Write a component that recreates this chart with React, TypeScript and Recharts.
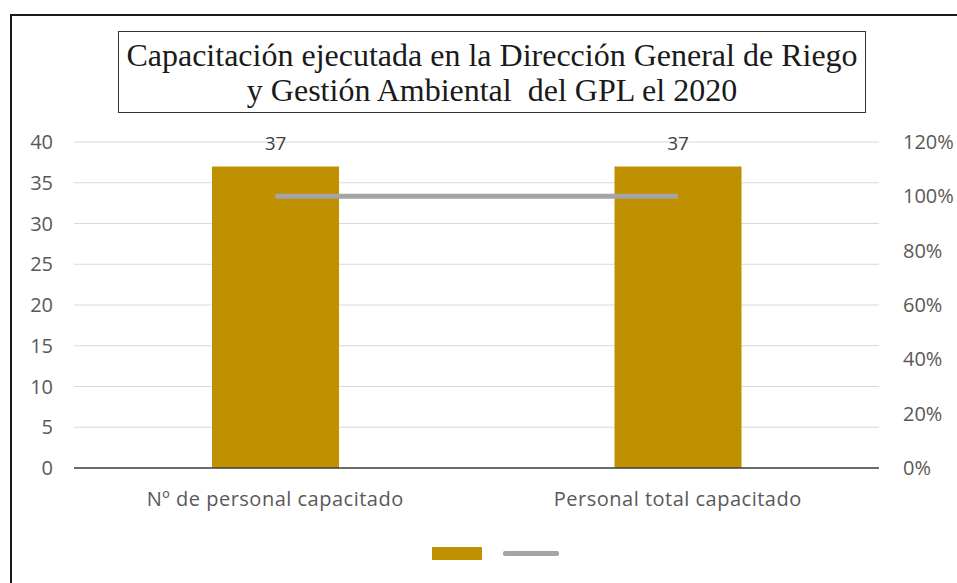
import React from 'react';
import { ComposedChart, Bar, Line, XAxis, YAxis, CartesianGrid, LabelList } from 'recharts';

const categories = ['Nº de personal capacitado', 'Personal total capacitado'];
const personal = [37, 37];
const percent = [1, 1];
const leftTicks = [0, 5, 10, 15, 20, 25, 30, 35, 40];
const rightTicks = [0, 0.2, 0.4, 0.6, 0.8, 1, 1.2];

const GOLD = '#BF9000';
const GREY = '#A5A5A5';
const TEXT = '#595959';
const FONT = '"Open Sans", sans-serif';

const chartData = categories.map((name, i) => ({
  name,
  personal: personal[i],
  percent: percent[i],
}));

// legend has no series names in the original, just the two swatches
const LegendSwatches = () => (
  <div
    style={{
      position: 'absolute',
      left: 0,
      top: 547,
      width: 957,
      display: 'flex',
      justifyContent: 'center',
      alignItems: 'center',
      gap: 21,
      height: 13,
      paddingLeft: 34,
      boxSizing: 'border-box',
    }}
  >
    <div style={{ width: 50, height: 13, background: GOLD }} />
    <div style={{ width: 56, height: 5, background: GREY, borderRadius: 2 }} />
  </div>
);

const App: React.FC = () => {
  return (
    <div style={{ position: 'absolute', left: 0, top: 0, width: 957, height: 583, background: '#fff', overflow: 'hidden' }}>
      <div
        style={{
          position: 'absolute',
          left: 10,
          top: 14,
          width: 980,
          height: 620,
          borderTop: '2px solid #1a1a1a',
          borderLeft: '2px solid #1a1a1a',
        }}
      />
      <div
        style={{
          position: 'absolute',
          left: 118,
          top: 31,
          width: 748,
          height: 82,
          border: '1.5px solid #333',
          fontFamily: '"Liberation Serif", serif',
          fontSize: 32,
          lineHeight: '35px',
          color: '#1a1a1a',
          textAlign: 'center',
          whiteSpace: 'pre',
          paddingTop: 6,
          boxSizing: 'border-box',
        }}
      >
        {'Capacitación ejecutada en la Dirección General de Riego\ny Gestión Ambiental  del GPL el 2020'}
      </div>
      <div style={{ position: 'absolute', left: 0, top: 0 }}>
        <ComposedChart
          width={957}
          height={583}
          data={chartData}
          margin={{ top: 142, right: 0, bottom: 85, left: 14 }}
        >
          <CartesianGrid yAxisId="left" vertical={false} stroke="#D9D9D9" strokeWidth={1} />
          <XAxis
            dataKey="name"
            axisLine={{ stroke: '#404040', strokeWidth: 1.5 }}
            tickLine={false}
            tickMargin={18}
            tick={{ fill: TEXT, fontSize: 20, fontFamily: FONT, letterSpacing: 0.5 }}
            height={30}
          />
          <YAxis
            yAxisId="left"
            domain={[0, 40]}
            ticks={leftTicks}
            axisLine={false}
            tickLine={false}
            tickMargin={15}
            width={60}
            tick={{ fill: TEXT, fontSize: 20, fontFamily: FONT }}
          />
          <YAxis
            yAxisId="right"
            orientation="right"
            domain={[0, 1.2]}
            ticks={rightTicks}
            tickFormatter={(v: number) => `${Math.round(v * 100)}%`}
            axisLine={false}
            tickLine={false}
            tickMargin={18}
            width={78}
            tick={{ fill: TEXT, fontSize: 20, fontFamily: FONT }}
          />
          <Bar yAxisId="left" dataKey="personal" fill={GOLD} barSize={127} isAnimationActive={false}>
            <LabelList
              dataKey="personal"
              position="top"
              offset={16}
              style={{ fill: '#404040', fontSize: 19, fontFamily: FONT }}
            />
          </Bar>
          <Line
            yAxisId="right"
            dataKey="percent"
            type="linear"
            stroke={GREY}
            strokeWidth={5}
            dot={false}
            isAnimationActive={false}
          />
        </ComposedChart>
      </div>
      <LegendSwatches />
    </div>
  );
};

export default App;
